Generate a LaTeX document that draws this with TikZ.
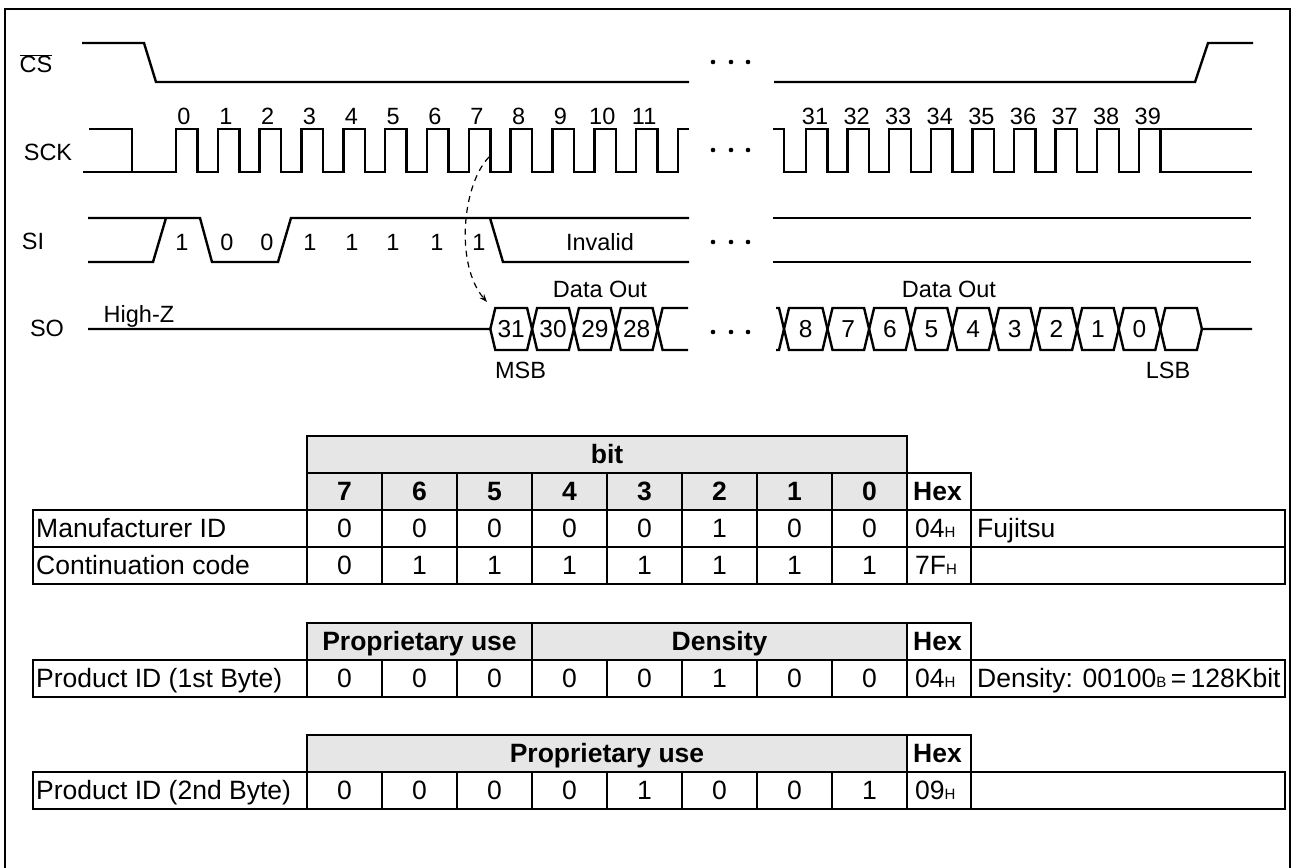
\documentclass[tikz,border=0pt]{standalone}
\usepackage{fontspec}
\setmainfont{Liberation Sans}
\usetikzlibrary{arrows.meta}
\definecolor{hdrgray}{RGB}{230,230,230}
\newcommand\hxs[1]{{\fontsize{15}{15}\selectfont #1}}
\begin{document}
\begin{tikzpicture}[x=1pt,y=-1pt,
  wave/.style={line width=2.4pt, line join=miter},
  gridl/.style={line width=2.4pt, line cap=rect},
  lbl/.style={font=\fontsize{23.5}{23.5}\selectfont, inner sep=0pt},
  hxd/.style={font=\fontsize{24.5}{24.5}\selectfont, inner sep=0pt},
  tb/.style={font=\fontsize{26.5}{26.5}\selectfont, inner sep=0pt, anchor=base},
  tbb/.style={font=\fontsize{26.5}{26.5}\selectfont\bfseries, inner sep=0pt, anchor=base},
  tbl/.style={tb, anchor=base west}]
\useasboundingbox (0,0) rectangle (1295,867);

% frame
\draw[gridl] (5,870) -- (5,9) -- (1290,9) -- (1290,870);

% ---------- labels
\node[lbl, anchor=base] (csL) at (36,73) {$\overline{\mbox{CS}}$};
\node[lbl, anchor=base] (sckL) at (48,160) {SCK};
\node[lbl, anchor=base] (siL) at (33,249) {SI};
\node[lbl, anchor=base] (soL) at (47,336) {SO};

% ---------- CS
\draw[wave] (82,43) -- (144,43) -- (156,82) -- (689,82);
\draw[wave] (774,82) -- (1195,82) -- (1208,43) -- (1253,43);
\foreach \x in {713,731,748} \fill (\x,62) circle (2.3pt);

% ---------- SCK
\draw[wave] (89,129) -- (132,129) -- (132,172);
\draw[wave] (83,172) -- (176,172)
  \foreach \k in {0,...,11} { -- ++(0,-43) -- ++(21.5,0) -- ++(0,43) -- ++(20.33,0) }
  -- ++(0,-43) -- ++(11,0);
\draw[wave] (773,129) -- (784,129) -- (784,172) -- (806,172)
  \foreach \k in {1,...,8} { -- ++(0,-43) -- ++(21.5,0) -- ++(0,43) -- ++(20.1,0) }
  -- ++(0,-43) -- ++(21.5,0) -- ++(0,43) -- (1252,172);
\draw[wave] (1160.3,129) -- (1252,129);
\foreach \n [count=\i from 0] in {0,...,11}
  \node[lbl] (ck\n) at (184+41.83*\i,116.5) {\n};
\foreach \n [count=\i from 0] in {31,...,39}
  \node[lbl] (ck\n) at (815+41.6*\i,116.5) {\n};
\foreach \x in {713,731,748} \fill (\x,150) circle (2.3pt);

% ---------- SI
\draw[wave] (88,218) -- (200,218) -- (212,262) -- (278,262) -- (291,218) -- (689,218);
\draw[wave] (88,262) -- (153,262) -- (166,218);
\draw[wave] (490,218) -- (503,262) -- (689,262);
\draw[wave] (773,218) -- (1251,218);
\draw[wave] (773,262) -- (1251,262);
\foreach \v/\x [count=\i] in {1/182,0/227,0/267,1/310,1/352,1/393,1/437,1/479}
  \node[lbl] (si\i) at (\x,242) {\v};
\node[lbl, anchor=base] (inv) at (600,250) {Invalid};
\foreach \x in {713,731,748} \fill (\x,242) circle (2.3pt);

% ---------- SO
\node[lbl, anchor=base] (hz) at (139,322) {High-Z};
\draw[wave] (88,329) -- (490.3,329) -- (495.3,308) -- (527.1,308) -- (537.1,350) -- (568.9,350) -- (578.9,308) -- (610.8,308) -- (620.8,350) -- (652.6,350) -- (662.6,308) -- (688,308);
\draw[wave] (490.3,329) -- (495.3,350) -- (527.1,350) -- (537.1,308) -- (568.9,308) -- (578.9,350) -- (610.8,350) -- (620.8,308) -- (652.6,308) -- (662.6,350) -- (688,350);
\draw[wave] (776,308) -- (779,308) -- (789,350) -- (822.5,350) -- (832.5,308) -- (864.1,308) -- (874.1,350) -- (905.7,350) -- (915.7,308) -- (947.3,308) -- (957.3,350) -- (988.9,350) -- (998.9,308) -- (1030.5,308) -- (1040.5,350) -- (1072.1,350) -- (1082.1,308) -- (1113.7,308) -- (1123.7,350) -- (1155.3,350) -- (1165.3,308) -- (1196.9,308) -- (1201.9,329) -- (1252,329);
\draw[wave] (776,350) -- (779,350) -- (789,308) -- (822.5,308) -- (832.5,350) -- (864.1,350) -- (874.1,308) -- (905.7,308) -- (915.7,350) -- (947.3,350) -- (957.3,308) -- (988.9,308) -- (998.9,350) -- (1030.5,350) -- (1040.5,308) -- (1072.1,308) -- (1082.1,350) -- (1113.7,350) -- (1123.7,308) -- (1155.3,308) -- (1165.3,350) -- (1196.9,350) -- (1201.9,329);
\foreach \v/\x in {31/511.2,30/553,29/594.9,28/636.7}
  \node[hxd] (so\v) at (\x,329) {\v};
\foreach \v/\x in {8/805.8,7/848.3,6/889.9,5/931.5,4/973.1,3/1014.7,2/1056.3,1/1097.9,0/1139.5}
  \node[hxd] (sr\v) at (\x,329) {\v};
\foreach \x in {713,731,748} \fill (\x,332) circle (2.3pt);
\node[lbl, anchor=base] (do1) at (600,297) {Data Out};
\node[lbl, anchor=base] (do2) at (949,297) {Data Out};
\node[lbl, anchor=base] (msb) at (520.5,378) {MSB};
\node[lbl, anchor=base] (lsb) at (1168,378) {LSB};

% dashed arrow
\coordinate (aS) at (489,157);
\coordinate (aE) at (487,302);
\draw[line width=1.2pt, dash pattern=on 6pt off 5pt, -{Stealth[length=8pt,width=6pt]}]
  (aS) .. controls (462,185) and (455,265) .. (aE);

% ---------- Table 1
\fill[hdrgray] (307,436) rectangle (907,510);
\draw[gridl] (307,584) -- (307,436) -- (907,436) -- (907,584);
\draw[gridl] (307,473) -- (971,473) -- (971,584);
\foreach \x in {382,457,532,607,682,757,832} \draw[gridl] (\x,473) -- (\x,584);
\foreach \y in {510,547,584} \draw[gridl] (33,\y) -- (1285,\y);
\draw[gridl] (33,510) -- (33,584);
\draw[gridl] (1285,510) -- (1285,584);
\node[tbb] (bitH) at (607,463) {bit};
\foreach \v [count=\i from 0] in {7,6,5,4,3,2,1,0}
  \node[tbb] (bh\i) at (344.5+75*\i,500) {\v};
\node[tbb, anchor=base west] (hex1) at (913,500) {Hex};
\node[tbl] (mID) at (36,537) {Manufacturer ID};
\foreach \v [count=\i from 0] in {0,0,0,0,0,1,0,0}
  \node[tb] (ma\i) at (344.5+75*\i,537) {\v};
\node[tbl] (mHex) at (915,537) {04\hxs{H}};
\node[tbl] (mCm) at (977,537) {Fujitsu};
\node[tbl] (cID) at (36,574) {Continuation code};
\foreach \v [count=\i from 0] in {0,1,1,1,1,1,1,1}
  \node[tb] (cb\i) at (344.5+75*\i,574) {\v};
\node[tbl] (cHex) at (915,574) {7F\hxs{H}};

% ---------- Table 2
\fill[hdrgray] (307,623) rectangle (907,660);
\draw[gridl] (307,697) -- (307,623) -- (971,623) -- (971,697);
\draw[gridl] (532,623) -- (532,697);
\draw[gridl] (907,623) -- (907,697);
\foreach \x in {382,457,607,682,757,832} \draw[gridl] (\x,660) -- (\x,697);
\foreach \y in {660,697} \draw[gridl] (33,\y) -- (1285,\y);
\draw[gridl] (33,660) -- (33,697);
\draw[gridl] (1285,660) -- (1285,697);
\node[tbb] (pu1) at (419.5,650) {Proprietary use};
\node[tbb] (den) at (719.5,650) {Density};
\node[tbb, anchor=base west] (hex2) at (913,650) {Hex};
\node[tbl] (p1ID) at (36,687) {Product ID (1st Byte)};
\foreach \v [count=\i from 0] in {0,0,0,0,0,1,0,0}
  \node[tb] (pa\i) at (344.5+75*\i,687) {\v};
\node[tbl] (p1Hex) at (915,687) {04\hxs{H}};
\node[tbl] (p1Cm) at (977,687) {Density: 00100\hxs{B}\,=\,128Kbit};

% ---------- Table 3
\fill[hdrgray] (307,735) rectangle (907,772);
\draw[gridl] (307,809) -- (307,735) -- (971,735) -- (971,809);
\draw[gridl] (907,735) -- (907,809);
\foreach \x in {382,457,532,607,682,757,832} \draw[gridl] (\x,772) -- (\x,809);
\foreach \y in {772,809} \draw[gridl] (33,\y) -- (1285,\y);
\draw[gridl] (33,772) -- (33,809);
\draw[gridl] (1285,772) -- (1285,809);
\node[tbb] (pu2) at (607,762) {Proprietary use};
\node[tbb, anchor=base west] (hex3) at (913,762) {Hex};
\node[tbl] (p2ID) at (36,799) {Product ID (2nd Byte)};
\foreach \v [count=\i from 0] in {0,0,0,0,1,0,0,1}
  \node[tb] (pb\i) at (344.5+75*\i,799) {\v};
\node[tbl] (p2Hex) at (915,799) {09\hxs{H}};
\end{tikzpicture}
\end{document}
